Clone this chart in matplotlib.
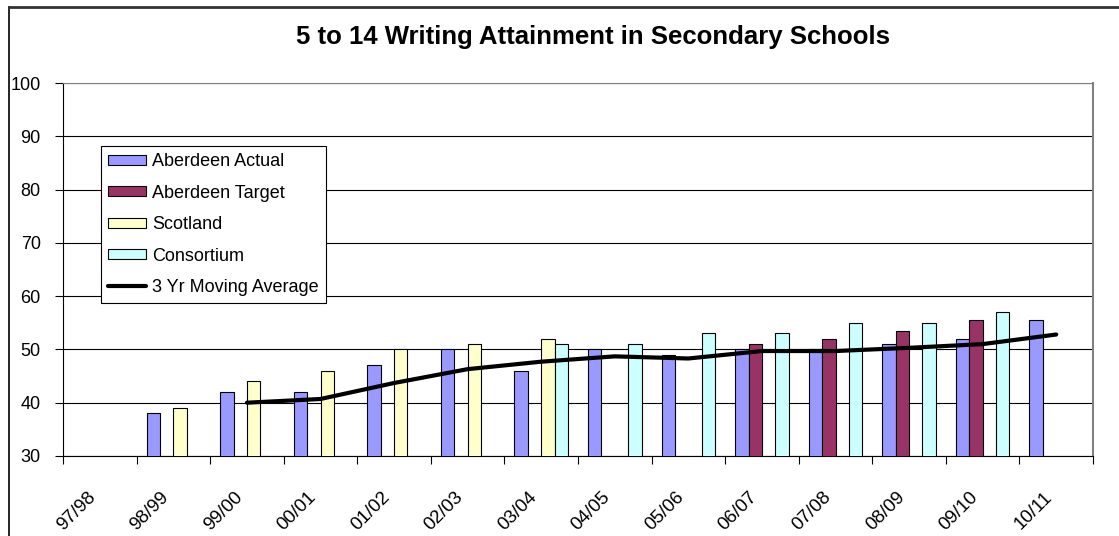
import numpy as np
import matplotlib
matplotlib.use('Agg')
import matplotlib.pyplot as plt
import matplotlib.transforms as mtransforms
from matplotlib.lines import Line2D

plt.rcParams['font.family'] = ['Liberation Sans', 'DejaVu Sans']

years = ['97/98', '98/99', '99/00', '00/01', '01/02', '02/03', '03/04',
         '04/05', '05/06', '06/07', '07/08', '08/09', '09/10', '10/11']
nan = np.nan
aberdeen_actual = [nan, 38, 42, 42, 47, 50, 46, 50, 49, 50, 50, 51, 52, 55.5]
aberdeen_target = [nan, nan, nan, nan, nan, nan, nan, nan, nan, 51, 52, 53.5, 55.5, nan]
scotland = [nan, 39, 44, 46, 50, 51, 52, nan, nan, nan, nan, nan, nan, nan]
consortium = [nan, nan, nan, nan, nan, nan, 51, 51, 53, 53, 55, 55, 57, nan]
moving_avg = [nan, nan, 40, 40.7, 43.7, 46.3, 47.7, 48.7, 48.3, 49.7, 49.7, 50.3, 51, 52.8]

series = [('Aberdeen Actual', aberdeen_actual, '#9999FF'),
          ('Aberdeen Target', aberdeen_target, '#993366'),
          ('Scotland', scotland, '#FFFFCC'),
          ('Consortium', consortium, '#CCFFFF')]

fig = plt.figure(figsize=(11.19, 5.36), dpi=100)
W, H = 1119, 536
ax = fig.add_axes([63 / W, 1 - 456 / H, (1093 - 63) / W, (456 - 83) / H])

x = np.arange(len(years))
w = 0.182
handles = []
for k, (name, vals, col) in enumerate(series):
    v = np.array(vals, dtype=float)
    m = ~np.isnan(v)
    pos = x[m] + (k - 1.5) * w
    b = ax.bar(pos, v[m], width=w, color=col, edgecolor='black', linewidth=0.8,
               zorder=3, label=name)
    handles.append(b)

line, = ax.plot(x, moving_avg, color='black', linewidth=3, zorder=4,
                solid_capstyle='round', label='3 Yr Moving Average')
handles.append(line)

ax.set_ylim(30, 100)
ax.set_xlim(-0.5, len(years) - 0.5)
ax.set_yticks(np.arange(30, 101, 10))
ax.yaxis.grid(True, color='black', linewidth=0.8, zorder=0)
ax.set_axisbelow(True)

ax.set_xticks(np.arange(len(years) + 1) - 0.5)
ax.set_xticklabels([])
ax.set_xticks(x, minor=True)
ax.set_xticklabels(years, minor=True, rotation=45, ha='right',
                   rotation_mode='anchor', fontsize=13.5)
ax.tick_params(axis='x', which='minor', length=0, pad=16)
ax.tick_params(axis='x', which='major', length=6, width=0.8, direction='out')
ax.tick_params(axis='y', length=6, width=0.8, direction='out', labelsize=13, pad=10)

# nudge the slanted labels like excel does
shift = mtransforms.ScaledTranslation(-13 / 100, -10 / 100, fig.dpi_scale_trans)
for lab in ax.get_xticklabels(minor=True):
    lab.set_transform(lab.get_transform() + shift)

ax.spines['left'].set_color('black')
ax.spines['bottom'].set_color('black')
ax.spines['top'].set_color('#808080')
ax.spines['right'].set_color('#808080')
ax.spines['right'].set_linewidth(1.5)

leg = ax.legend(handles=handles, loc='upper left',
                bbox_to_anchor=((101 - 63) / 1030, (456 - 146) / 373),
                fontsize=13, frameon=True, fancybox=False, framealpha=1,
                edgecolor='black', borderpad=0.4, labelspacing=0.8,
                handlelength=2.1, handleheight=0.45, handletextpad=0.33,
                borderaxespad=0)
leg.get_frame().set_linewidth(0.8)
leg.set_zorder(6)

fig.text(593 / W, 1 - 37 / H, '5 to 14 Writing Attainment in Secondary Schools',
         ha='center', va='center', fontsize=18.5, fontweight='bold')

# chart frame
fig.add_artist(Line2D([9 / W, 9 / W], [0, 1 - 7 / H], color='black', linewidth=1.2,
                      transform=fig.transFigure))
fig.add_artist(Line2D([9 / W, 1], [1 - 7 / H, 1 - 7 / H], color='#333333', linewidth=2,
                      transform=fig.transFigure))

fig.savefig('out.png', dpi=100)
